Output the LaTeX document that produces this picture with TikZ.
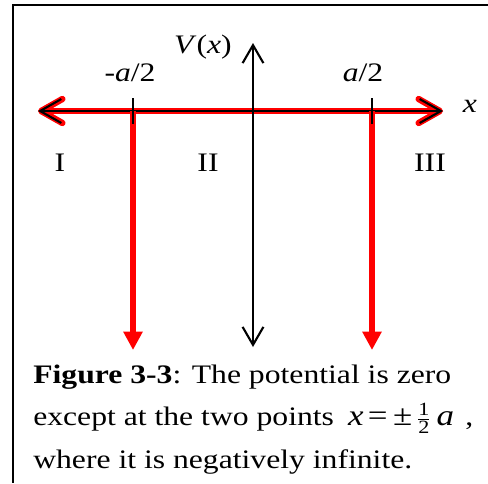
\documentclass[tikz,border=0pt]{standalone}
\usepackage{amsmath}
\usepackage{fontspec}
\setmainfont{Liberation Serif}[FakeStretch=1.185]
\definecolor{wellred}{RGB}{255,0,0}
\usetikzlibrary{arrows.meta,positioning}
\newcommand{\eqsize}{\fontsize{21}{25}\selectfont}
\tikzset{
  frame/.style={line width=2pt,draw=black},
  axisred/.style={line width=4.5pt,draw=wellred,
    {Straight Barb[length=5.3mm,width=6mm,round]}-{Straight Barb[length=5.3mm,width=6mm,round]}},
  axisblk/.style={line width=1.5pt,draw=black,
    {Straight Barb[length=5.3mm,width=6mm]}-{Straight Barb[length=5.3mm,width=6mm]}},
  vaxis/.style={line width=1.5pt,draw=black,
    {Straight Barb[length=4.5mm,width=5.2mm]}-{Straight Barb[length=4.5mm,width=5.2mm]}},
  well/.style={line width=4.3pt,draw=wellred,-{Triangle[length=4.6mm,width=4.6mm]}},
  tick/.style={line width=1pt,draw=black},
  lbl/.style={font=\fontsize{19}{23}\selectfont,inner sep=0pt},
  caption/.style={font=\fontsize{19}{30.2}\selectfont,align=left,inner sep=0pt},
}
\begin{document}
\begin{tikzpicture}[x=0.025cm,y=-0.025cm]
  \useasboundingbox (0,0) rectangle (488,483);
  % frame
  \coordinate (ftop) at (488,5);
  \coordinate (fcorner) at (13,5);
  \coordinate (fbot) at (13,483);
  \draw[frame] (ftop) -- (fcorner) -- (fbot);
  % x axis
  \coordinate (xl) at (38,111);
  \coordinate (xr) at (443,111);
  \draw[axisred] (xl) -- (xr);
  \draw[axisblk] (xl) -- (xr);
  % the two wells
  \coordinate (wl) at (133,111);  \coordinate (wlb) at (133,350);
  \coordinate (wr) at (372,111);  \coordinate (wrb) at (372,350);
  \draw[well] (wl) -- (wlb);
  \draw[well] (wr) -- (wrb);
  \coordinate (tl1) at (133,98);  \coordinate (tl2) at (133,124);
  \coordinate (tr1) at (372,98);  \coordinate (tr2) at (372,124);
  \draw[tick] (tl1) -- (tl2);
  \draw[tick] (tr1) -- (tr2);
  % V axis
  \coordinate (vt) at (253,43);
  \coordinate (vb) at (253,347);
  \draw[vaxis] (vb) -- (vt);
  % labels
  \node[lbl] (vlab) at (203,47) {\textit{V}(\textit{x})};
  \node[lbl] (mlab) at (130,73) {-\textit{a}/2};
  \node[lbl] (plab) at (363,73) {\textit{a}/2};
  \node[lbl] (xlab) at (470,106) {\textit{x}};
  \node[lbl] (r1) at (60,163) {I};
  \node[lbl] (r2) at (208,163) {II};
  \node[lbl] (r3) at (430,163) {III};
  % caption, anchored on its last line
  \node[caption,anchor=base west] (cap) at (33,468)
    {\textbf{Figure 3-3}: The potential is zero\\
     except at the two points\hspace{10pt}{\eqsize\textit{x}\hspace{3pt}=\hspace{4pt}±}\hspace{3pt}$\smash{\tfrac{\textrm{1}}{\textrm{2}}}$\hspace{4pt}{\eqsize\textit{a}}\hspace{8pt},\\
     where it is negatively infinite.};
\end{tikzpicture}
\end{document}
